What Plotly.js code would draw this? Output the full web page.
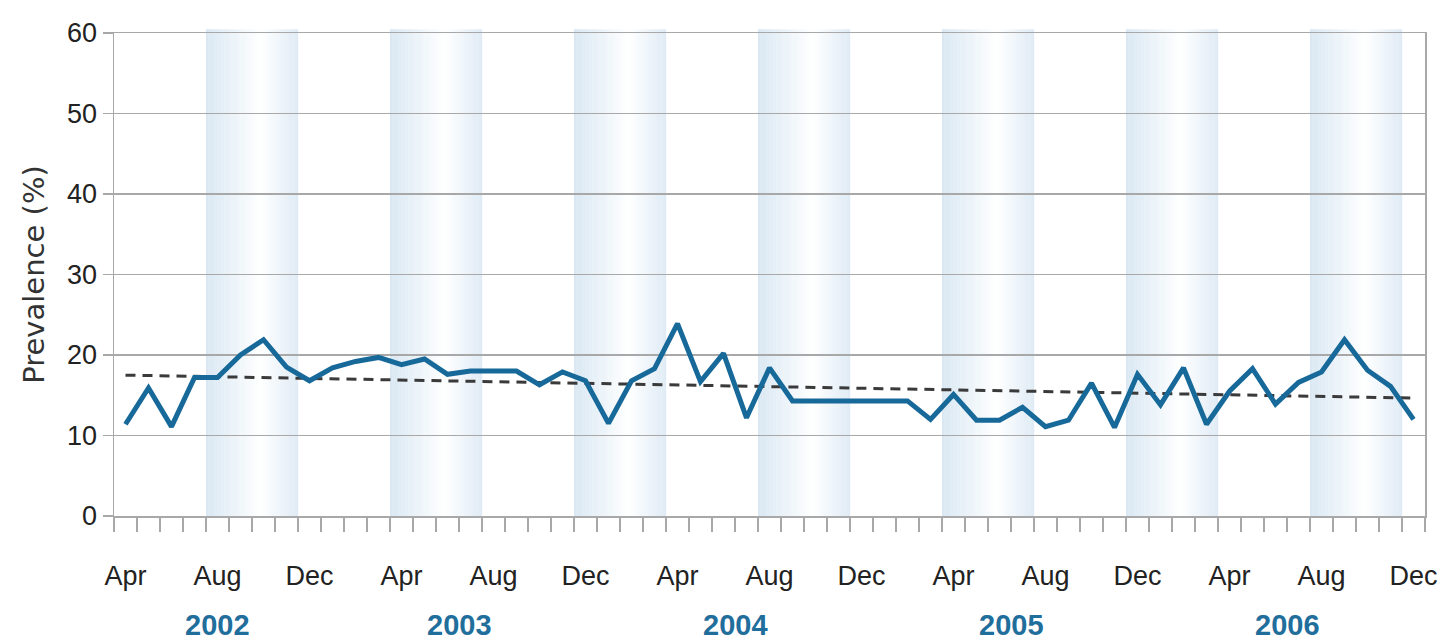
<!DOCTYPE html>
<html>
<head>
<meta charset="utf-8">
<script src="https://cdn.plot.ly/plotly-3.0.1.min.js"></script>
<style>
  html, body { margin: 0; padding: 0; background: #ffffff; }
  #chart { width: 1443px; height: 643px; }
</style>
</head>
<body>
<div id="chart"></div>
<script>
// months Apr 2002 .. Dec 2006
var months = [
    'Apr 2002','May 2002','Jun 2002','Jul 2002','Aug 2002','Sep 2002','Oct 2002','Nov 2002','Dec 2002',
    'Jan 2003','Feb 2003','Mar 2003','Apr 2003','May 2003','Jun 2003','Jul 2003','Aug 2003','Sep 2003','Oct 2003','Nov 2003','Dec 2003',
    'Jan 2004','Feb 2004','Mar 2004','Apr 2004','May 2004','Jun 2004','Jul 2004','Aug 2004','Sep 2004','Oct 2004','Nov 2004','Dec 2004',
    'Jan 2005','Feb 2005','Mar 2005','Apr 2005','May 2005','Jun 2005','Jul 2005','Aug 2005','Sep 2005','Oct 2005','Nov 2005','Dec 2005',
    'Jan 2006','Feb 2006','Mar 2006','Apr 2006','May 2006','Jun 2006','Jul 2006','Aug 2006','Sep 2006','Oct 2006','Nov 2006','Dec 2006'
];

var prevalence = [
    11.4, 15.9, 11.1, 17.2, 17.2, 20.0, 21.9, 18.5, 16.8,
    18.4, 19.2, 19.7, 18.8, 19.5, 17.6, 18.0, 18.0, 18.0, 16.3, 17.9, 16.8,
    11.5, 16.8, 18.3, 23.9, 16.7, 20.2, 12.2, 18.4, 14.3, 14.3, 14.3, 14.3,
    14.3, 14.3, 12.0, 15.1, 11.9, 11.9, 13.5, 11.1, 11.9, 16.5, 11.0, 17.6,
    13.8, 18.4, 11.4, 15.5, 18.3, 13.9, 16.6, 17.9, 21.9, 18.1, 16.1, 12.0
];

// dashed trend line, read at first and last month
var trendMonths = ['Apr 2002', 'Dec 2006'];
var trendValues = [17.5, 14.65];

// first month of each shaded 4-month band
var shadedStarts = ['Aug 2002', 'Apr 2003', 'Dec 2003', 'Aug 2004', 'Apr 2005', 'Dec 2005', 'Aug 2006'];

var years = ['2002', '2003', '2004', '2005', '2006'];

var xIdx = months.map(function(m, i) { return i; });

var tickVals = [];
var tickText = [];
months.forEach(function(m, i) {
    if (i % 4 == 0) {
        tickVals.push(i);
        tickText.push(m.split(' ')[0]);
    }
});

var boundaries = [];
for (var b = 0; b <= months.length; b++) boundaries.push(b - 0.5);

var grey = '#a8a8a8';
var narrow = '"Liberation Sans Narrow", "Liberation Sans", Arial, sans-serif';

// shaded bands: light blue at the edges, white towards the middle
var shapes = [];
var slices = 40;
shadedStarts.forEach(function(s) {
    var start = months.indexOf(s) - 0.5;
    for (var k = 0; k < slices; k++) {
        var t = (k + 0.5) / slices;
        var w = t < 0.6 ? 1 - t / 0.6 : (t - 0.6) / 0.4 * 0.85;
        var r = Math.round(255 - (255 - 217) * w);
        var g = Math.round(255 - (255 - 231) * w);
        var bl = Math.round(255 - (255 - 243) * w);
        shapes.push({
            type: 'rect', layer: 'below',
            xref: 'x', yref: 'paper',
            x0: start + 4 * k / slices, x1: start + 4 * (k + 1) / slices + 0.01,
            y0: 0, y1: 1.008,
            line: { width: 0 },
            fillcolor: 'rgb(' + r + ',' + g + ',' + bl + ')'
        });
    }
});

// year labels centred under their months
var annotations = years.map(function(y) {
    var idx = [];
    months.forEach(function(m, i) { if (m.split(' ')[1] == y) idx.push(i); });
    var c = (idx[0] + idx[idx.length - 1]) / 2;
    return {
        text: y, x: c, xref: 'x', y: -0.226, yref: 'paper',
        xanchor: 'center', yanchor: 'middle', showarrow: false,
        font: { family: narrow, size: 29, color: '#1f6e9c', weight: 'bold' }
    };
});

var data = [
    {
        x: trendMonths.map(function(m) { return months.indexOf(m); }),
        y: trendValues,
        mode: 'lines',
        line: { color: '#3a3a3a', width: 3, dash: '10px,7px' },
        hoverinfo: 'skip'
    },
    {
        x: xIdx,
        y: prevalence,
        mode: 'lines',
        line: { color: '#17699a', width: 5 },
        name: 'Prevalence'
    }
];

var layout = {
    width: 1443,
    height: 643,
    showlegend: false,
    paper_bgcolor: '#ffffff',
    plot_bgcolor: '#ffffff',
    margin: { l: 114, r: 18, t: 33, b: 127 },
    font: { family: narrow, color: '#222222' },
    xaxis: {
        range: [-0.5, months.length - 0.5],
        tickmode: 'array',
        tickvals: tickVals,
        ticktext: tickText,
        ticks: 'outside',
        ticklen: 35,
        tickcolor: 'rgba(0,0,0,0)',
        tickfont: { family: narrow, size: 27, color: '#222222' },
        minor: {
            tickmode: 'array',
            tickvals: boundaries,
            ticks: 'outside',
            ticklen: 14,
            tickwidth: 1.5,
            tickcolor: grey,
            showgrid: false
        },
        showgrid: false,
        zeroline: false,
        showline: true,
        linecolor: grey,
        linewidth: 1.5,
        mirror: true,
        fixedrange: true
    },
    yaxis: {
        range: [0, 60],
        tickmode: 'linear',
        tick0: 0,
        dtick: 10,
        ticks: 'outside',
        ticklen: 10,
        tickwidth: 1.5,
        tickcolor: grey,
        tickfont: { family: narrow, size: 27, color: '#222222' },
        showgrid: true,
        gridcolor: grey,
        gridwidth: 1.5,
        zeroline: false,
        showline: true,
        linecolor: grey,
        linewidth: 1.5,
        mirror: true,
        title: {
            text: 'Prevalence (%)',
            font: { family: '"DejaVu Sans", Verdana, sans-serif', size: 29, color: '#333333' },
            standoff: 14
        },
        fixedrange: true
    },
    shapes: shapes,
    annotations: annotations
};

Plotly.newPlot('chart', data, layout, { displayModeBar: false, staticPlot: true });
</script>
</body>
</html>
